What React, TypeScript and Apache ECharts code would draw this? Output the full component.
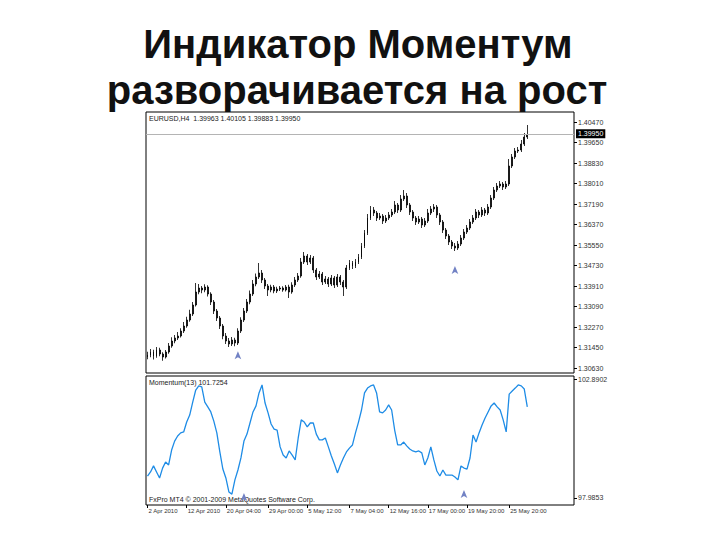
import { useEffect, useRef } from "react";
import * as echarts from "echarts";

const titleLines = ["Индикатор Моментум", "разворачивается на рост"];
const headerText = "EURUSD,H4  1.39963 1.40105 1.39883 1.39950";
const indicatorText = "Momentum(13) 101.7254";
const copyrightText = "FxPro MT4 © 2001-2009 MetaQuotes Software Corp.";

const firstOpen = 1.3105;
const closes = [
  1.3115, 1.3127, 1.3111, 1.3135, 1.3119, 1.3107, 1.3127, 1.3151, 1.3171, 1.3183,
  1.3191, 1.3211, 1.3231, 1.3255, 1.3279, 1.3315, 1.3367, 1.3383, 1.3375, 1.3387,
  1.3359, 1.3327, 1.3291, 1.3263, 1.3231, 1.3191, 1.3171, 1.3159, 1.3175, 1.3163,
  1.3211, 1.3255, 1.3291, 1.3327, 1.3359, 1.3399, 1.3427, 1.3443, 1.3415, 1.3391,
  1.3375, 1.3387, 1.3371, 1.3379, 1.3383, 1.3375, 1.3387, 1.3367, 1.3395, 1.3415,
  1.3431, 1.3487, 1.3511, 1.3487, 1.3503, 1.3455, 1.3427, 1.3439, 1.3407, 1.3419,
  1.3399, 1.3423, 1.3395, 1.3427, 1.3407, 1.3387, 1.3463, 1.3483, 1.3471, 1.3487,
  1.3507, 1.3551, 1.3603, 1.3663, 1.3695, 1.3683, 1.3663, 1.3671, 1.3651, 1.3663,
  1.3675, 1.3687, 1.3715, 1.3695, 1.3739, 1.3751, 1.3715, 1.3687, 1.3663, 1.3647,
  1.3659, 1.3635, 1.3651, 1.3683, 1.3699, 1.3707, 1.3675, 1.3647, 1.3615, 1.3591,
  1.3567, 1.3551, 1.3543, 1.3559, 1.3583, 1.3607, 1.3623, 1.3647, 1.3663, 1.3687,
  1.3675, 1.3695, 1.3683, 1.3707, 1.3743, 1.3775, 1.3791, 1.3799, 1.3787, 1.3799,
  1.3871, 1.3907, 1.3931, 1.3935, 1.3959, 1.3987, 1.3995,
];
const highs = [
  1.3128, 1.3139, 1.3136, 1.3147, 1.3144, 1.3126, 1.3135, 1.3163, 1.3186, 1.3195,
  1.3207, 1.3222, 1.3247, 1.3268, 1.3296, 1.3327, 1.3403, 1.3399, 1.3391, 1.3398,
  1.3394, 1.3366, 1.3335, 1.3299, 1.3271, 1.3239, 1.3203, 1.3183, 1.3187, 1.3184,
  1.3222, 1.3266, 1.3303, 1.3339, 1.3373, 1.3415, 1.3441, 1.3483, 1.3455, 1.3423,
  1.3399, 1.3396, 1.3395, 1.3388, 1.3391, 1.339, 1.3395, 1.3396, 1.3406, 1.3427,
  1.3443, 1.3503, 1.3527, 1.3519, 1.3515, 1.3511, 1.3463, 1.3451, 1.3447, 1.3431,
  1.3427, 1.3435, 1.3431, 1.3439, 1.3435, 1.3415, 1.3475, 1.3495, 1.3491, 1.3499,
  1.3519, 1.3563, 1.3615, 1.3679, 1.3711, 1.3707, 1.3691, 1.3683, 1.3679, 1.3675,
  1.3687, 1.3699, 1.3731, 1.3723, 1.3755, 1.3775, 1.3763, 1.3723, 1.3695, 1.3671,
  1.3671, 1.3667, 1.3663, 1.3699, 1.3711, 1.3719, 1.3715, 1.3683, 1.3655, 1.3623,
  1.3599, 1.3575, 1.3563, 1.3571, 1.3595, 1.3619, 1.3635, 1.3659, 1.3675, 1.3699,
  1.3695, 1.3707, 1.3703, 1.3719, 1.3755, 1.3787, 1.3803, 1.3811, 1.3807, 1.3811,
  1.3899, 1.3919, 1.3943, 1.3947, 1.3975, 1.4003, 1.4035,
];
const lows = [
  1.3098, 1.3106, 1.3097, 1.3104, 1.311, 1.3092, 1.3101, 1.312, 1.3144, 1.3162,
  1.3175, 1.3185, 1.3203, 1.3224, 1.3248, 1.3271, 1.3309, 1.3358, 1.3362, 1.3366,
  1.3349, 1.3315, 1.3279, 1.3251, 1.3219, 1.3178, 1.3159, 1.3147, 1.3151, 1.315,
  1.3155, 1.3203, 1.3247, 1.3283, 1.3318, 1.3351, 1.339, 1.3419, 1.3403, 1.3379,
  1.3351, 1.3366, 1.3362, 1.3363, 1.3371, 1.3368, 1.3369, 1.3343, 1.336, 1.3387,
  1.3407, 1.3424, 1.3479, 1.3475, 1.3479, 1.3443, 1.3415, 1.3419, 1.3395, 1.3399,
  1.3387, 1.3391, 1.3383, 1.3387, 1.3395, 1.3351, 1.3379, 1.3455, 1.3459, 1.3463,
  1.3479, 1.3499, 1.3543, 1.3595, 1.3655, 1.3671, 1.3651, 1.3655, 1.3639, 1.3643,
  1.3655, 1.3667, 1.3679, 1.3683, 1.3687, 1.3731, 1.3703, 1.3675, 1.3651, 1.3635,
  1.3639, 1.3623, 1.3627, 1.3643, 1.3675, 1.3687, 1.3663, 1.3635, 1.3603, 1.3579,
  1.3555, 1.3539, 1.3531, 1.3535, 1.3551, 1.3575, 1.3599, 1.3615, 1.3639, 1.3655,
  1.3663, 1.3667, 1.3671, 1.3675, 1.3699, 1.3735, 1.3767, 1.3783, 1.3775, 1.3779,
  1.3791, 1.3863, 1.3899, 1.3923, 1.3927, 1.3951, 1.3979,
];
const momentum = [
  98.89, 99.06, 99.31, 99.06, 98.81, 99.22, 99.47, 99.35, 99.97, 100.34,
  100.55, 100.68, 100.72, 101.13, 101.42, 101.96, 102.46, 102.63, 102.59, 101.96,
  101.76, 101.55, 101.17, 100.68, 99.89, 99.18, 98.81, 98.23, 98.14, 98.73,
  99.14, 99.64, 100.34, 100.63, 101.09, 101.55, 101.8, 102.34, 102.67, 101.92,
  101.51, 101.05, 100.84, 100.8, 100.1, 99.76, 99.64, 99.93, 99.76, 99.56,
  100.47, 101.22, 101.13, 100.93, 101.09, 101.09, 100.63, 100.39, 100.39, 100.47,
  100.1, 99.72, 99.39, 99.02, 99.35, 99.64, 99.89, 100.05, 100.18, 100.68,
  101.13, 101.63, 102.34, 102.54, 102.63, 102.67, 102.34, 101.55, 101.51, 101.63,
  101.84, 101.63, 100.8, 100.18, 100.18, 100.3, 100.14, 100.01, 99.93, 99.89,
  99.93, 99.85, 99.35, 99.64, 100.1, 99.56, 99.1, 98.89, 99.14, 98.93,
  98.93, 98.93, 98.85, 98.73, 99.31, 99.22, 99.18, 99.64, 100.59, 100.3,
  100.68, 101.01, 101.3, 101.55, 101.8, 101.92, 101.76, 101.63, 101.22, 100.72,
  102.29, 102.42, 102.54, 102.67, 102.63, 102.5, 101.76,
];

const priceTicks = [
  1.4047, 1.3965, 1.3883, 1.3801, 1.3719, 1.3637, 1.3555, 1.3473, 1.3391,
  1.3309, 1.3227, 1.3145, 1.3063,
];
const momentumTicks = [102.8902, 97.9853];
const xTickIdx = [0, 13, 26, 40, 53, 67, 80, 93, 106, 120];
const xTickText = [
  "2 Apr 2010", "12 Apr 2010", "20 Apr 04:00", "29 Apr 00:00", "5 May 12:00",
  "7 May 04:00", "12 May 16:00", "17 May 00:00", "19 May 20:00", "25 May 20:00",
];
const totalSlots = 142;
const priceMarkers = [[30, 1.313], [102, 1.3471]];
const momentumMarkers = [[32, 98.19], [105, 98.31]];

const FONT = 'Arial, "Liberation Sans", sans-serif';

export default function App() {
  const ref = useRef<HTMLDivElement>(null);

  useEffect(() => {
    if (!ref.current) return;
    const chart = echarts.init(ref.current, undefined, { renderer: "svg" });

    const categories = Array.from({ length: totalSlots }, (_, i) => String(i));
    const candles = closes.map((c, i) => [
      i === 0 ? firstOpen : closes[i - 1],
      c,
      lows[i],
      highs[i],
    ]);
    const lastClose = closes[closes.length - 1];
    const showTick = (idx: number) => xTickIdx.includes(idx);

    const smallText = { fontSize: 7, color: "#333", fontFamily: FONT };

    chart.setOption({
      animation: false,
      backgroundColor: "#fff",
      grid: [
        { left: 146, top: 112, width: 428, height: 261, show: true, borderColor: "#000", borderWidth: 1, backgroundColor: "#fff" },
        { left: 146, top: 376, width: 428, height: 129, show: true, borderColor: "#000", borderWidth: 1, backgroundColor: "#fff" },
      ],
      xAxis: [
        {
          type: "category",
          gridIndex: 0,
          data: categories,
          boundaryGap: true,
          axisLine: { show: false },
          axisTick: { show: false },
          axisLabel: { show: false },
          splitLine: { show: false },
        },
        {
          type: "category",
          gridIndex: 1,
          data: categories,
          boundaryGap: true,
          axisLine: { show: false },
          axisTick: {
            show: true,
            alignWithLabel: true,
            interval: (idx: number) => showTick(idx),
            length: 3,
            lineStyle: { color: "#000" },
          },
          axisLabel: {
            fontSize: 6,
            color: "#333",
            fontFamily: FONT,
            interval: (idx: number) => showTick(idx),
            formatter: (_v: string, idx: number) => {
              const k = xTickIdx.indexOf(idx);
              return k >= 0 ? xTickText[k] : "";
            },
            align: "left",
            margin: 3,
            padding: [0, 0, 0, 1],
          },
          splitLine: { show: false },
        },
      ],
      yAxis: [
        {
          type: "value",
          gridIndex: 0,
          position: "right",
          min: 1.3043,
          max: 1.4087,
          scale: true,
          axisLine: { show: false },
          axisTick: { show: true, inside: false, length: 3, lineStyle: { color: "#000" }, customValues: priceTicks },
          axisLabel: {
            ...smallText,
            margin: 4,
            customValues: priceTicks,
            formatter: (v: number) => v.toFixed(5),
          },
          splitLine: { show: false },
        },
        {
          type: "value",
          gridIndex: 1,
          position: "right",
          min: 97.688,
          max: 103.0415,
          scale: true,
          axisLine: { show: false },
          axisTick: { show: true, inside: false, length: 3, lineStyle: { color: "#000" }, customValues: momentumTicks },
          axisLabel: {
            ...smallText,
            margin: 4,
            customValues: momentumTicks,
            formatter: (v: number) => v.toFixed(4),
          },
          splitLine: { show: false },
        },
      ],
      series: [
        {
          type: "candlestick",
          xAxisIndex: 0,
          yAxisIndex: 0,
          data: candles,
          barWidth: 1.4,
          itemStyle: {
            color: "#000",
            color0: "#000",
            borderColor: "#000",
            borderColor0: "#000",
            borderWidth: 0.8,
          },
          markLine: {
            silent: true,
            symbol: ["none", "none"],
            lineStyle: { color: "#b4b4b4", width: 1, type: "solid" },
            label: {
              show: true,
              position: "end",
              distance: 2,
              formatter: () => lastClose.toFixed(5),
              backgroundColor: "#000",
              color: "#fff",
              fontSize: 7,
              fontFamily: FONT,
              padding: [1, 2, 1, 2],
            },
            data: [{ yAxis: lastClose }],
          },
          markPoint: {
            silent: true,
            symbol: "arrow",
            symbolSize: [5, 8],
            itemStyle: { color: "#7282c4" },
            label: { show: false },
            data: priceMarkers.map((p) => ({ coord: p })),
          },
        },
        {
          type: "line",
          xAxisIndex: 1,
          yAxisIndex: 1,
          data: momentum,
          showSymbol: false,
          symbol: "none",
          lineStyle: { color: "#1e8ce6", width: 1.3 },
          markPoint: {
            silent: true,
            symbol: "arrow",
            symbolSize: [5, 8],
            itemStyle: { color: "#7282c4" },
            label: { show: false },
            data: momentumMarkers.map((p) => ({ coord: p })),
          },
        },
      ],
      graphic: [
        {
          type: "text",
          x: 358,
          y: 44,
          style: {
            text: titleLines[0],
            fontSize: 40,
            fontWeight: "bold",
            fontFamily: FONT,
            fill: "#111",
            align: "center",
            verticalAlign: "middle",
          },
        },
        {
          type: "text",
          x: 357,
          y: 90,
          style: {
            text: titleLines[1],
            fontSize: 40,
            fontWeight: "bold",
            fontFamily: FONT,
            fill: "#111",
            align: "center",
            verticalAlign: "middle",
          },
        },
        {
          type: "text",
          x: 149,
          y: 118,
          style: { text: headerText, fontSize: 7, fontFamily: FONT, fill: "#222", verticalAlign: "middle" },
        },
        {
          type: "text",
          x: 149,
          y: 382,
          style: { text: indicatorText, fontSize: 7, fontFamily: FONT, fill: "#222", verticalAlign: "middle" },
        },
        {
          type: "text",
          x: 149,
          y: 499,
          style: { text: copyrightText, fontSize: 7, fontFamily: FONT, fill: "#222", verticalAlign: "middle" },
        },
      ],
    });

    return () => chart.dispose();
  }, []);

  return (
    <div
      ref={ref}
      style={{ position: "fixed", left: 0, top: 0, width: 720, height: 540, background: "#fff" }}
    />
  );
}
